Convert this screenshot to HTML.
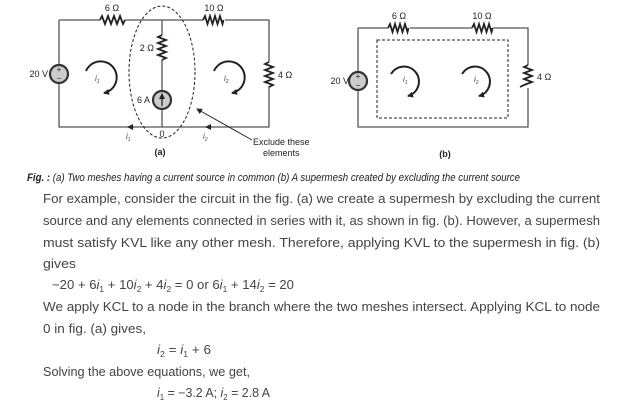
<!DOCTYPE html>
<html><head><style>body{margin:0;background:#fff}svg{display:block}</style></head><body>
<svg width="617" height="402" viewBox="0 0 617 402" xmlns="http://www.w3.org/2000/svg" font-family="Liberation Sans, sans-serif">
<defs>
<marker id="ah" markerWidth="6" markerHeight="6" refX="5" refY="3" orient="auto" markerUnits="userSpaceOnUse"><path d="M0,0 L6,3 L0,6 z" fill="#222"/></marker>
</defs>
<g stroke="#555" stroke-width="1.3" fill="none">
<path d="M59,20 H100 M125,20 H203 M225,20 H269 V62 M269,86 V127 H59 V84 M59,64 V20"/>
<path d="M162,20 V35 M162,60 V91 M162,109 V127"/>
<path d="M358,28 H388 M410,28 H472 M493,28 H528 V65 M528,88 V127 H358 V91 M358,71 V28"/>
</g>
<g stroke="#222" stroke-width="1.8" fill="none">
<path d="M100,20 l2,-4 l3,8 l3,-8 l3,8 l3,-8 l3,8 l3,-8 l3,8 l2,-4"/>
<path d="M203,20 l2,-4 l2.5,8 l2.5,-8 l2.5,8 l2.5,-8 l2.5,8 l2.5,-8 l2.5,8 l1,-4"/>
<path d="M162,35 l-4,2 l8,3 l-8,3 l8,3 l-8,3 l8,3 l-8,3 l8,3 l-4,2"/>
<path d="M269,62 l-4,2 l8,3 l-8,3 l8,3 l-8,3 l8,3 l-8,3 l8,3 l-4,2"/>
<path d="M388,28 l2,-4 l2.5,8 l2.5,-8 l2.5,8 l2.5,-8 l2.5,8 l2.5,-8 l2.5,8 l1,-4"/>
<path d="M472,28 l2,-4 l2.5,8 l2.5,-8 l2.5,8 l2.5,-8 l2.5,8 l2.5,-8 l2.5,8 l1,-4"/>
<path d="M528,65 l-4,2 l8,3 l-8,3 l8,3 l-8,3 l8,3 l-8,3 l-4,2"/>
</g>
<circle cx="59" cy="74" r="9" fill="#ccc" stroke="#333" stroke-width="2.2"/>
<text x="59" y="72" font-size="8" text-anchor="middle" fill="#222">+</text>
<text x="59" y="81" font-size="8" text-anchor="middle" fill="#222">−</text>
<circle cx="358" cy="81" r="9" fill="#ccc" stroke="#333" stroke-width="2.2"/>
<text x="358" y="79" font-size="8" text-anchor="middle" fill="#222">+</text>
<text x="358" y="88" font-size="8" text-anchor="middle" fill="#222">−</text>
<circle cx="162" cy="100" r="9" fill="#ccc" stroke="#333" stroke-width="2.2"/>
<path d="M162,106 V94" stroke="#222" stroke-width="1.3" marker-end="url(#ah)"/>
<ellipse cx="162" cy="72" rx="33" ry="66" fill="none" stroke="#222" stroke-width="1" stroke-dasharray="3,2"/>
<rect x="377" y="40" width="131" height="78" fill="none" stroke="#222" stroke-width="1" stroke-dasharray="3,2"/>
<path d="M252,140 L197,109" stroke="#222" stroke-width="1" marker-end="url(#ah)"/>
<g stroke="#222" stroke-width="2" fill="none" marker-end="url(#ah)">
<path d="M86,71 A16 16 0 1 1 104,93"/>
<path d="M214,71 A16 16 0 1 1 232,93"/>
<path d="M391,74 A15 15 0 1 1 408,96"/>
<path d="M462,74 A15 15 0 1 1 479,96"/>
</g>
<g stroke="#222" stroke-width="1" marker-end="url(#ah)">
<path d="M134,127 H128"/><path d="M212,127 H206"/>
</g>
<g font-size="9" fill="#222">
<text x="112" y="11" text-anchor="middle">6 Ω</text>
<text x="214" y="11" text-anchor="middle">10 Ω</text>
<text x="154" y="51" text-anchor="end">2 Ω</text>
<text x="48" y="77" text-anchor="end">20 V</text>
<text x="278" y="78">4 Ω</text>
<text x="150" y="103" text-anchor="end">6 A</text>
<text x="162" y="137" text-anchor="middle">0</text>
<text x="160" y="155" text-anchor="middle" font-weight="bold">(a)</text>
<text x="253" y="145">Exclude these</text>
<text x="263" y="156">elements</text>
<text x="399" y="19" text-anchor="middle">6 Ω</text>
<text x="482" y="19" text-anchor="middle">10 Ω</text>
<text x="349" y="84" text-anchor="end">20 V</text>
<text x="537" y="80">4 Ω</text>
<text x="445" y="157" text-anchor="middle" font-weight="bold">(b)</text>
</g>
<g font-size="8" font-style="italic" fill="#444">
<text x="95" y="81">i<tspan font-size="5" dy="2">1</tspan></text>
<text x="224" y="81">i<tspan font-size="5" dy="2">2</tspan></text>
<text x="403" y="82">i<tspan font-size="5" dy="2">1</tspan></text>
<text x="474" y="82">i<tspan font-size="5" dy="2">2</tspan></text>
<text x="126" y="139">i<tspan font-size="5" dy="2">1</tspan></text>
<text x="203" y="139">i<tspan font-size="5" dy="2">2</tspan></text>
</g>
<text x="27" y="181" font-size="11" font-style="italic" fill="#222" textLength="493" lengthAdjust="spacingAndGlyphs"><tspan font-weight="bold">Fig. :</tspan> (a) Two meshes having a current source in common (b) A supermesh created by excluding the current source</text>
<g font-size="12.5" fill="#444">
<text x="43" y="203" textLength="557" lengthAdjust="spacingAndGlyphs">For example, consider the circuit in the fig. (a) we create a supermesh by excluding the current</text>
<text x="43" y="225" textLength="557" lengthAdjust="spacingAndGlyphs">source and any elements connected in series with it, as shown in fig. (b). However, a supermesh</text>
<text x="43" y="247" textLength="557" lengthAdjust="spacingAndGlyphs">must satisfy KVL like any other mesh. Therefore, applying KVL to the supermesh in fig. (b)</text>
<text x="43" y="268" textLength="33" lengthAdjust="spacingAndGlyphs">gives</text>
<text x="52" y="289" textLength="242" lengthAdjust="spacingAndGlyphs">−20 + 6<tspan font-style="italic">i</tspan><tspan font-size="8" dy="3">1</tspan><tspan dy="-3"> + 10</tspan><tspan font-style="italic">i</tspan><tspan font-size="8" dy="3">2</tspan><tspan dy="-3"> + 4</tspan><tspan font-style="italic">i</tspan><tspan font-size="8" dy="3">2</tspan><tspan dy="-3"> = 0    or    6</tspan><tspan font-style="italic">i</tspan><tspan font-size="8" dy="3">1</tspan><tspan dy="-3"> + 14</tspan><tspan font-style="italic">i</tspan><tspan font-size="8" dy="3">2</tspan><tspan dy="-3"> = 20</tspan></text>
<text x="43" y="311" textLength="557" lengthAdjust="spacingAndGlyphs">We apply KCL to a node in the branch where the two meshes intersect. Applying KCL to node</text>
<text x="43" y="333" textLength="103" lengthAdjust="spacingAndGlyphs">0 in fig. (a) gives,</text>
<text x="157" y="354" textLength="54" lengthAdjust="spacingAndGlyphs"><tspan font-style="italic">i</tspan><tspan font-size="8" dy="3">2</tspan><tspan dy="-3"> = </tspan><tspan font-style="italic">i</tspan><tspan font-size="8" dy="3">1</tspan><tspan dy="-3"> + 6</tspan></text>
<text x="43" y="376" textLength="207" lengthAdjust="spacingAndGlyphs">Solving the above equations, we get,</text>
<text x="157" y="397" textLength="113" lengthAdjust="spacingAndGlyphs"><tspan font-style="italic">i</tspan><tspan font-size="8" dy="3">1</tspan><tspan dy="-3"> = −3.2 A; </tspan><tspan font-style="italic">i</tspan><tspan font-size="8" dy="3">2</tspan><tspan dy="-3"> = 2.8 A</tspan></text>
</g>
</svg>
</body></html>
